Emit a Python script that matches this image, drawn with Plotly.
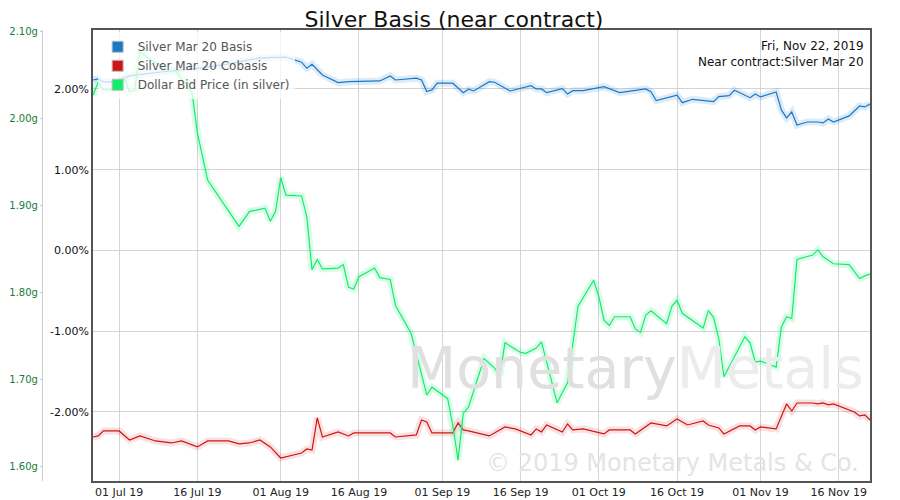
import plotly.graph_objects as go

# Silver Mar 20 basis (%)
basis_dates = ["2019-06-26", "2019-06-27", "2019-06-28", "2019-06-30", "2019-07-03", "2019-07-09",
               "2019-07-17", "2019-07-22", "2019-07-28", "2019-08-02", "2019-08-05", "2019-08-06",
               "2019-08-07", "2019-08-09", "2019-08-12", "2019-08-14", "2019-08-20", "2019-08-22",
               "2019-08-23", "2019-08-27", "2019-08-28", "2019-08-29", "2019-08-30", "2019-08-31",
               "2019-09-03", "2019-09-05", "2019-09-06", "2019-09-07", "2019-09-10", "2019-09-11",
               "2019-09-14", "2019-09-18", "2019-09-19", "2019-09-20", "2019-09-21", "2019-09-24",
               "2019-09-25", "2019-09-26", "2019-09-28", "2019-10-02", "2019-10-05", "2019-10-10",
               "2019-10-11", "2019-10-12", "2019-10-16", "2019-10-17", "2019-10-19", "2019-10-23",
               "2019-10-24", "2019-10-26", "2019-10-27", "2019-10-30", "2019-10-31", "2019-11-01",
               "2019-11-04", "2019-11-05", "2019-11-06", "2019-11-07", "2019-11-08", "2019-11-10",
               "2019-11-12", "2019-11-13", "2019-11-14", "2019-11-15", "2019-11-18", "2019-11-20",
               "2019-11-21", "2019-11-22"]
basis = [2.111, 2.124, 2.087, 2.087, 2.161, 2.21, 2.26, 2.31, 2.384, 2.393, 2.331, 2.256,
         2.306, 2.173, 2.078, 2.09, 2.099, 2.161, 2.111, 2.133, 2.111, 1.967, 1.988, 2.071,
         2.071, 1.954, 1.996, 1.975, 2.09, 2.083, 1.975, 2.041, 2.0, 2.0, 1.954, 2.004,
         1.938, 1.979, 1.979, 2.028, 1.954, 2.0, 1.967, 1.855, 1.922, 1.83, 1.872, 1.843,
         1.905, 1.917, 1.984, 1.892, 1.938, 1.901, 1.963, 1.74, 1.641, 1.715, 1.554, 1.591,
         1.591, 1.579, 1.628, 1.591, 1.666, 1.789, 1.777, 1.814]

# Silver Mar 20 cobasis (%)
cobasis_dates = ["2019-06-26", "2019-06-27", "2019-06-28", "2019-07-01", "2019-07-03", "2019-07-05",
                 "2019-07-08", "2019-07-11", "2019-07-13", "2019-07-16", "2019-07-18", "2019-07-22",
                 "2019-07-24", "2019-07-26", "2019-07-28", "2019-07-30", "2019-08-01", "2019-08-05",
                 "2019-08-06", "2019-08-07", "2019-08-08", "2019-08-09", "2019-08-12", "2019-08-14",
                 "2019-08-15", "2019-08-19", "2019-08-22", "2019-08-23", "2019-08-27", "2019-08-28",
                 "2019-08-29", "2019-08-30", "2019-09-03", "2019-09-04", "2019-09-05", "2019-09-06",
                 "2019-09-10", "2019-09-13", "2019-09-15", "2019-09-18", "2019-09-19", "2019-09-20",
                 "2019-09-21", "2019-09-24", "2019-09-25", "2019-09-26", "2019-09-28", "2019-10-02",
                 "2019-10-03", "2019-10-07", "2019-10-08", "2019-10-11", "2019-10-14", "2019-10-16",
                 "2019-10-18", "2019-10-21", "2019-10-22", "2019-10-24", "2019-10-25", "2019-10-28",
                 "2019-10-30", "2019-10-31", "2019-11-01", "2019-11-04", "2019-11-05", "2019-11-06",
                 "2019-11-07", "2019-11-08", "2019-11-11", "2019-11-12", "2019-11-13", "2019-11-14",
                 "2019-11-15", "2019-11-19", "2019-11-20", "2019-11-21", "2019-11-22"]
cobasis = [-2.31, -2.297, -2.235, -2.235, -2.347, -2.297, -2.359, -2.384, -2.359, -2.433, -2.359,
           -2.359, -2.396, -2.384, -2.347, -2.433, -2.57, -2.508, -2.458, -2.471, -2.074, -2.31,
           -2.248, -2.297, -2.26, -2.26, -2.26, -2.31, -2.285, -2.099, -2.124, -2.26, -2.26,
           -2.136, -2.223, -2.235, -2.297, -2.186, -2.21, -2.285, -2.21, -2.248, -2.161, -2.248,
           -2.149, -2.223, -2.21, -2.272, -2.223, -2.223, -2.272, -2.136, -2.173, -2.087, -2.161,
           -2.111, -2.161, -2.198, -2.272, -2.173, -2.173, -2.223, -2.186, -2.21, -2.062, -1.901,
           -1.988, -1.889, -1.889, -1.901, -1.889, -1.913, -1.901, -2.0, -2.049, -2.037, -2.099]

# Dollar bid price in silver (grams)
price_dates = ["2019-06-26", "2019-06-27", "2019-06-28", "2019-07-01", "2019-07-02", "2019-07-03",
               "2019-07-04", "2019-07-05", "2019-07-07", "2019-07-10", "2019-07-12", "2019-07-13",
               "2019-07-15", "2019-07-16", "2019-07-18", "2019-07-24", "2019-07-26", "2019-07-29",
               "2019-07-30", "2019-07-31", "2019-08-01", "2019-08-02", "2019-08-05", "2019-08-06",
               "2019-08-07", "2019-08-08", "2019-08-09", "2019-08-12", "2019-08-13", "2019-08-14",
               "2019-08-15", "2019-08-16", "2019-08-19", "2019-08-20", "2019-08-22", "2019-08-23",
               "2019-08-26", "2019-08-29", "2019-08-30", "2019-09-02", "2019-09-03", "2019-09-04",
               "2019-09-05", "2019-09-06", "2019-09-09", "2019-09-11", "2019-09-12", "2019-09-13",
               "2019-09-16", "2019-09-17", "2019-09-19", "2019-09-20", "2019-09-23", "2019-09-25",
               "2019-09-27", "2019-09-30", "2019-10-01", "2019-10-02", "2019-10-03", "2019-10-04",
               "2019-10-07", "2019-10-08", "2019-10-09", "2019-10-10", "2019-10-11", "2019-10-14",
               "2019-10-15", "2019-10-16", "2019-10-17", "2019-10-21", "2019-10-22", "2019-10-23",
               "2019-10-24", "2019-10-25", "2019-10-29", "2019-10-30", "2019-10-31", "2019-11-01",
               "2019-11-04", "2019-11-05", "2019-11-06", "2019-11-07", "2019-11-08", "2019-11-11",
               "2019-11-12", "2019-11-13", "2019-11-15", "2019-11-18", "2019-11-20", "2019-11-21",
               "2019-11-22"]
price = [2.027, 2.042, 2.033, 2.034, 2.047, 2.031, 2.033, 2.077, 2.068, 2.056, 2.054, 2.045,
         2.030, 1.984, 1.929, 1.876, 1.893, 1.897, 1.882, 1.893, 1.932, 1.912, 1.911, 1.887,
         1.826, 1.838, 1.827, 1.828, 1.832, 1.806, 1.804, 1.818, 1.828, 1.817, 1.815, 1.785,
         1.753, 1.682, 1.691, 1.678, 1.647, 1.607, 1.661, 1.668, 1.724, 1.713, 1.704, 1.742,
         1.731, 1.730, 1.736, 1.743, 1.673, 1.696, 1.784, 1.814, 1.795, 1.768, 1.762, 1.772,
         1.772, 1.758, 1.754, 1.774, 1.779, 1.764, 1.784, 1.791, 1.776, 1.759, 1.779, 1.771,
         1.747, 1.703, 1.749, 1.742, 1.720, 1.721, 1.714, 1.760, 1.772, 1.770, 1.838, 1.843,
         1.849, 1.841, 1.833, 1.832, 1.816, 1.819, 1.821]

tick_dates = ["2019-07-01", "2019-07-16", "2019-08-01", "2019-08-16", "2019-09-01",
              "2019-09-16", "2019-10-01", "2019-10-16", "2019-11-01", "2019-11-16"]
pct_ticks = [-2, -1, 0, 1, 2]
gram_ticks = [1.6, 1.7, 1.8, 1.9, 2.0, 2.1]

series = [
    ("Silver Mar 20 Basis", basis_dates, basis, "#1a78c8", "rgba(26,120,200,0.15)", "y"),
    ("Silver Mar 20 Cobasis", cobasis_dates, cobasis, "#d01414", "rgba(208,20,20,0.13)", "y"),
    ("Dollar Bid Price (in silver)", price_dates, price, "#10ee6a", "rgba(16,238,106,0.15)", "y2"),
]

fig = go.Figure()

# glow under each line
for name, xs, ys, col, glow, ax in series:
    fig.add_trace(go.Scatter(x=xs, y=ys, yaxis=ax, mode="lines", hoverinfo="skip",
                             line=dict(color=glow, width=7), showlegend=False))
for name, xs, ys, col, glow, ax in series:
    fig.add_trace(go.Scatter(x=xs, y=ys, yaxis=ax, mode="lines", name=name,
                             line=dict(color=col, width=1.2), showlegend=False))
# square legend swatches
for name, xs, ys, col, glow, ax in series:
    fig.add_trace(go.Scatter(x=[None], y=[None], mode="markers", name=name,
                             marker=dict(symbol="square", size=11, color=col,
                                         line=dict(color="#bbbbbb", width=1))))

fig.add_annotation(text="Monetary<span style='color:#ececec'>Metals</span>", x=0.995, y=0.25,
                   xref="paper", yref="paper", xanchor="right", yanchor="middle",
                   showarrow=False, font=dict(family="DejaVu Sans", size=57, color="#e0e0e0"))
fig.add_annotation(text="© 2019 Monetary Metals & Co.", x=0.99, y=0.04, xref="paper", yref="paper",
                   xanchor="right", yanchor="middle", showarrow=False,
                   font=dict(family="DejaVu Sans", size=24, color="#e4e4e4"))
fig.add_annotation(text="Fri, Nov 22, 2019<br>Near contract:Silver Mar 20", x=0.995, y=0.985,
                   xref="paper", yref="paper", xanchor="right", yanchor="top", align="right",
                   showarrow=False, font=dict(family="DejaVu Sans", size=12, color="#111111"))

# the page body adds 8px at top-left, so the figure is 8px smaller
fig.update_layout(
    width=892, height=492,
    paper_bgcolor="white", plot_bgcolor="white",
    margin=dict(l=0, r=30, t=22, b=19, autoexpand=False),
    title=dict(text="Silver Basis (near contract)", x=0.5, xanchor="center", y=0.993, yanchor="top",
               pad=dict(t=0),
               font=dict(family="DejaVu Sans", size=22, color="#111111")),
    font=dict(family="DejaVu Sans", size=11, color="#222222"),
    legend=dict(x=0.104, y=0.995, xref="paper", yref="paper", bgcolor="rgba(255,255,255,0.75)",
                font=dict(size=12, color="#555555"), tracegroupgap=0, itemwidth=30),
    xaxis=dict(type="date", domain=[0.0986, 1], range=["2019-06-26", "2019-11-22"],
               tickvals=tick_dates, tickformat="%d %b %y", showgrid=True, gridcolor="#d4d4d4",
               showline=True, linecolor="#555555", linewidth=1.5, mirror=True, ticks="",
               tickfont=dict(size=11), automargin=False),
    yaxis=dict(range=[-2.855, 2.73], tickvals=pct_ticks,
               ticktext=[f"{v:.2f}%" for v in pct_ticks],
               showgrid=True, gridcolor="#d4d4d4", zeroline=False, showline=True,
               linecolor="#555555", linewidth=1.5, mirror=True, ticks="",
               tickfont=dict(size=11, color="#111111"), automargin=False),
    yaxis2=dict(overlaying="y", anchor="free", position=0.0394, side="left",
                range=[1.583, 2.102], tickvals=gram_ticks,
                ticktext=[f"{v:.2f}g" for v in gram_ticks],
                showgrid=False, zeroline=False, showline=True, linecolor="#cccccc",
                ticks="outside", ticklen=2, tickcolor="#cccccc", automargin=False,
                tickfont=dict(size=10, color="#1a7a3a")),
)

fig.write_html("out.html")
